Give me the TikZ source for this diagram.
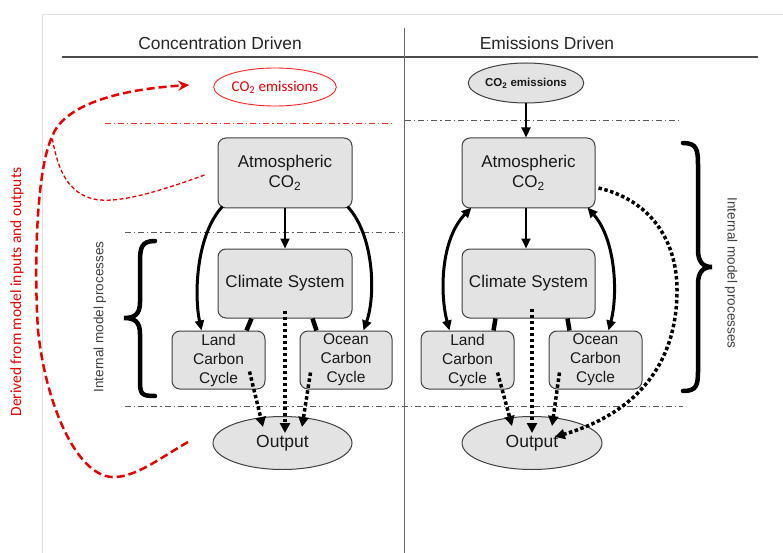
\documentclass[tikz,border=0pt]{standalone}
\usepackage{fontspec}
\setmainfont{Liberation Sans}
\newfontfamily\calib{Carlito}
\usetikzlibrary{arrows.meta,shapes.geometric,calc}
\begin{document}
\begin{tikzpicture}[x=1pt,y=-1pt,
  box/.style={draw=black!75,fill=gray!22,rounded corners=8pt,line width=1pt,align=center,inner sep=0pt,text=black!90,font=\fontsize{17}{20}\selectfont},
  smallbox/.style={box,font=\fontsize{15.5}{19}\selectfont},
  oval/.style={ellipse,draw=black!75,fill=gray!22,line width=1pt,inner sep=0pt,text=black!90},
  solidarrow/.style={line width=3pt,-{Triangle[length=10pt,width=9pt]}},
  straightarrow/.style={line width=2.2pt,-{Triangle[length=10pt,width=9pt]}},
  twoarrow/.style={line width=3pt,{Triangle[length=10pt,width=9pt]}-{Triangle[length=10pt,width=9pt]}},
  thickseg/.style={line width=4.5pt},
  dotarrow/.style={line width=3.5pt,dash pattern=on 3.5pt off 2.5pt,-{Triangle[length=10pt,width=10pt]}},
  dashdot/.style={draw=black!65,line width=0.8pt,dash pattern=on 6pt off 3pt on 1.2pt off 3pt},
  reddashdot/.style={dashdot,draw=red!85},
  bracepath/.style={line width=4.5pt,line cap=round},
  sidelabel/.style={text=black!75,font=\fontsize{13.5}{15}\selectfont},
  title/.style={text=black!85,font=\fontsize{17.4}{20}\selectfont},
  redthick/.style={draw=red!90!black,line width=2.5pt,dash pattern=on 8pt off 4pt,-{Stealth[length=11pt,width=10pt]}},
  redthin/.style={draw=red!90!black,line width=1.3pt,dash pattern=on 4pt off 2.5pt}
]
\useasboundingbox (0,0) rectangle (783,553);
\fill[white] (0,0) rectangle (783,553);
% frame
\draw[black!12,line width=1pt] (42,553) -- (42,15) -- (783,15);
% titles and dividers
\node[title] (tl) at (220,43) {Concentration Driven};
\node[title] (tr) at (547,43) {Emissions Driven};
\draw[black!70,line width=1.2pt] (62,57) -- (758,57);
\draw[black!60,line width=1pt] (404,28) -- (404,553);
% dash-dot lines
\draw[reddashdot] (105,123) -- (393,123);
\draw[dashdot] (405,120) -- (682,120);
\draw[dashdot] (125,232) -- (403,232);
\draw[dashdot] (125,406) -- (683,406);

% ---------------- left panel
\node[ellipse,draw=red!85,line width=0.9pt,fill=white,minimum width=117pt,minimum height=38pt,inner sep=0pt,text=red!90!black,font=\calib\fontsize{15}{16}\selectfont] (emisL) at (275,87) {CO\textsubscript{2} emissions};
\node[box,minimum width=134pt,minimum height=70pt] (atmL) at (285,173) {Atmospheric\\CO\textsubscript{2}};
\node[box,minimum width=134pt,minimum height=69pt] (climL) at (285,283.5) {Climate System};
\node[smallbox,minimum width=93pt,minimum height=58pt] (landL) at (218.5,360) {Land\\Carbon\\Cycle};
\node[smallbox,minimum width=92pt,minimum height=58pt] (oceanL) at (346,360) {Ocean\\Carbon\\Cycle};
\node[oval,minimum width=139pt,minimum height=53pt,font=\fontsize{17.5}{19}\selectfont] (outL) at (282.5,443) {Output};

\draw[straightarrow] (atmL.south) -- (climL.north);
\draw[solidarrow] ($(atmL.south west)+(5,-2)$) .. controls (196,235) and (194,295) .. ($(landL.north west)+(30,0)$);
\draw[solidarrow] ($(atmL.south east)+(-5,-2)$) .. controls (374,235) and (376,295) .. ($(oceanL.north east)+(-29,0)$);
\draw[thickseg] ($(climL.south west)+(34,0)$) -- ($(landL.north east)+(-19,0)$);
\draw[thickseg] ($(climL.south east)+(-40,0)$) -- ($(oceanL.north west)+(17,0)$);
\draw[dotarrow] ($(climL.south)+(0,-8)$) -- ($(outL.north)+(2.5,17)$);
\draw[dotarrow] ($(landL.south east)+(-16,-18)$) -- ($(outL.north)+(-19.5,11)$);
\draw[dotarrow] ($(oceanL.south west)+(11,-17)$) -- ($(outL.north)+(19.5,11)$);

% braces left
\draw[bracepath] (155,241) .. controls (141,241) and (140,248) .. (140,263) -- (140,302)
  .. controls (140,314) and (135,318) .. (124,318) .. controls (135,318) and (140,322) .. (140,334)
  -- (140,380) .. controls (140,394) and (141,396) .. (155,396);
\node[sidelabel,rotate=90] (ilL) at (100,317) {Internal model processes};

% red annotations
\node[rotate=90,text=red!90!black,font=\calib\fontsize{15.5}{17}\selectfont] (derived) at (17,292) {Derived from model inputs and outputs};
\coordinate (rstart) at (188,442);
\coordinate (rjoin) at (52,137);
\draw[redthick] (rstart) .. controls (160,458) and (135,478) .. (112,477)
  .. controls (75,475) and (45,400) .. (38,330)
  .. controls (34,270) and (36,170) .. (rjoin)
  .. controls (62,108) and (110,90) .. ($(emisL.west)+(-24,-2)$);
\draw[redthin] ($(atmL.west)+(-13,2)$) .. controls (150,195) and (110,205) .. (90,198)
  .. controls (65,190) and (57,165) .. (rjoin);

% ---------------- right panel
\node[oval,minimum width=93pt,minimum height=40pt,font=\bfseries\fontsize{11.5}{12}\selectfont] (emisR) at (526,83) {CO\textsubscript{2} emissions};
\node[box,minimum width=133pt,minimum height=70pt] (atmR) at (528.5,173) {Atmospheric\\CO\textsubscript{2}};
\node[box,minimum width=133pt,minimum height=69pt] (climR) at (528.5,283.5) {Climate System};
\node[smallbox,minimum width=93pt,minimum height=58pt] (landR) at (467.5,360) {Land\\Carbon\\Cycle};
\node[smallbox,minimum width=93pt,minimum height=58pt] (oceanR) at (595.5,360) {Ocean\\Carbon\\Cycle};
\node[oval,minimum width=140pt,minimum height=53pt,font=\fontsize{17.5}{19}\selectfont] (outR) at (532,443) {Output};

\draw[straightarrow] (emisR.south) -- ($(atmR.north)+(-2.5,0)$);
\draw[straightarrow] ($(atmR.south)+(-2.5,0)$) -- ($(climR.north)+(-2.5,0)$);
\draw[twoarrow] ($(landR.north west)+(29,0)$) .. controls (440,295) and (440,240) .. ($(atmR.south west)+(10,-1)$);
\draw[twoarrow] ($(oceanR.north east)+(-34,0)$) .. controls (618,295) and (616,240) .. ($(atmR.south east)+(-8,-1)$);
\draw[thickseg] ($(climR.south west)+(34,0)$) -- ($(landR.north east)+(-21,0)$);
\draw[thickseg] ($(climR.south east)+(-28,0)$) -- ($(oceanR.north west)+(21,0)$);
\draw[dotarrow] ($(climR.south)+(3.5,-10)$) -- ($(outR.north)+(0,17)$);
\draw[dotarrow] ($(landR.south east)+(-17,-17)$) -- ($(outR.north)+(-20,10)$);
\draw[dotarrow] ($(oceanR.south west)+(11,-17)$) -- ($(outR.north)+(20,10)$);
\draw[dotarrow] ($(atmR.east)+(3,15)$) .. controls (650,200) and (677,240) .. (677,290)
  .. controls (677,370) and (630,415) .. ($(outR.north east)+(-27,13)$);

% brace right
\draw[bracepath] (683,143) .. controls (697,143) and (698,150) .. (698,165) -- (698,250)
  .. controls (698,262) and (703,267) .. (712,267) .. controls (703,267) and (698,272) .. (698,284)
  -- (698,370) .. controls (698,385) and (697,391) .. (683,391);
\node[sidelabel,rotate=-90] (ilR) at (731,273) {Internal model processes};
\end{tikzpicture}
\end{document}
